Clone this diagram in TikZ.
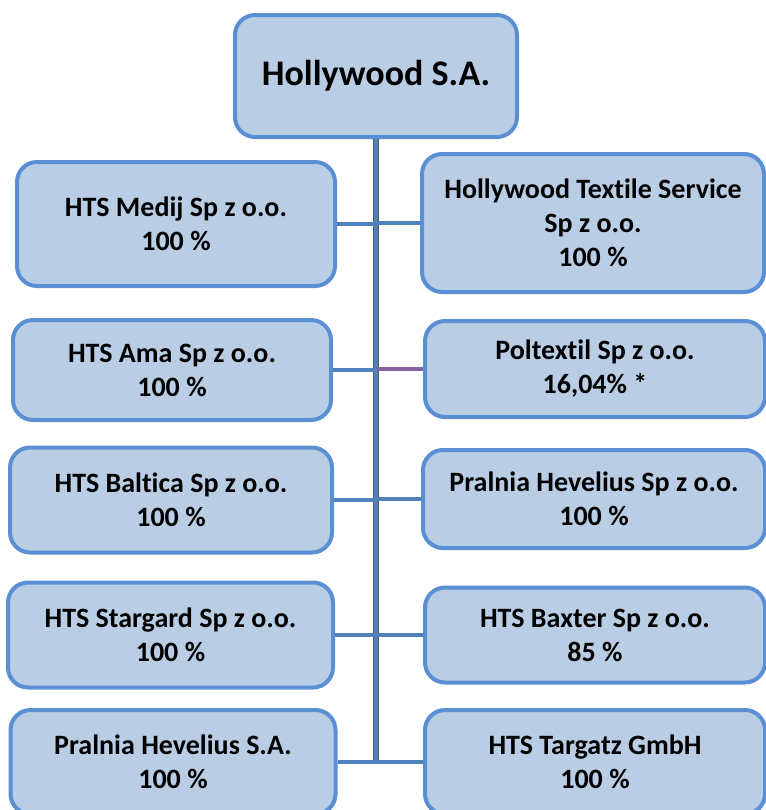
\documentclass[tikz,border=0pt]{standalone}
\usepackage{fontspec}
\setmainfont{Carlito}[Ligatures=NoCommon]
\usetikzlibrary{positioning, calc}

\definecolor{boxfill}{HTML}{B9CDE5}
\definecolor{boxline}{HTML}{5A8FD4}
\definecolor{linkblue}{HTML}{4F81BD}
\definecolor{linkpurple}{HTML}{8064A2}

\tikzset{
  firm/.style={draw=boxline, fill=boxfill, line width=3pt, rounded corners=15pt,
    align=center, inner sep=0pt, font=\bfseries\fontsize{21}{25.5}\selectfont},
  link/.style={draw=linkblue, line width=2.6pt},
  trunkedge/.style={draw=black!65, line width=5pt},
}

\begin{document}
\begin{tikzpicture}[x=0.75pt, y=-0.75pt]
    \useasboundingbox (0,0) rectangle (766,810);
    \clip (0,0) rectangle (766,810);

    % parent
    \node[firm, minimum width=211.5pt, minimum height=91.5pt,
          font=\bfseries\fontsize{27}{32}\selectfont] (holly) at (376,76) {Hollywood S.A.};
    \coordinate (trunkend) at (376,762);

    % left column
    \node[firm, minimum width=238.5pt, minimum height=93pt] (medij) at (176,224) {HTS Medij Sp z o.o.\\100 \%};
    \node[firm, minimum width=238.5pt, minimum height=75pt] (ama) at (172,370) {HTS Ama Sp z o.o.\\100 \%};
    \node[firm, minimum width=241.5pt, minimum height=78.75pt] (baltica) at (171,500) {HTS Baltica Sp z o.o.\\100 \%};
    \node[firm, minimum width=243.75pt, minimum height=78.75pt] (stargard) at (170.5,635) {HTS Stargard Sp z o.o.\\100 \%};
    \node[firm, minimum width=243.75pt, minimum height=78pt] (pralniasa) at (173,762) {Pralnia Hevelius S.A.\\100 \%};

    % right column
    \node[firm, minimum width=256.5pt, minimum height=103.5pt] (hts) at (593,223) {Hollywood Textile Service\\Sp z o.o.\\100 \%};
    \node[firm, minimum width=255pt, minimum height=72pt] (poltextil) at (595,369) {Poltextil Sp z o.o.\\16,04\% *};
    \node[firm, minimum width=256.5pt, minimum height=73.5pt] (pralniasp) at (594,499) {Pralnia Hevelius Sp z o.o.\\100 \%};
    \node[firm, minimum width=255pt, minimum height=71.25pt] (baxter) at (595,635) {HTS Baxter Sp z o.o.\\85 \%};
    \node[firm, minimum width=255pt, minimum height=78pt] (targatz) at (595,762) {HTS Targatz GmbH\\100 \%};

    % trunk
    \draw[trunkedge] (holly.south) -- (trunkend);
    \draw[link, line width=3pt] (holly.south) -- (trunkend);

    % branches
    \foreach \firm in {medij, ama, baltica, stargard}
        \draw[link] (\firm.east) -- (\firm.east -| trunkend);
    \foreach \firm in {hts, pralniasp, baxter}
        \draw[link] (\firm.west -| trunkend) -- (\firm.west);
    \draw[link, draw=linkpurple] (poltextil.west -| trunkend) -- (poltextil.west);
    \draw[link] (pralniasa.east) -- (targatz.west);
\end{tikzpicture}
\end{document}
